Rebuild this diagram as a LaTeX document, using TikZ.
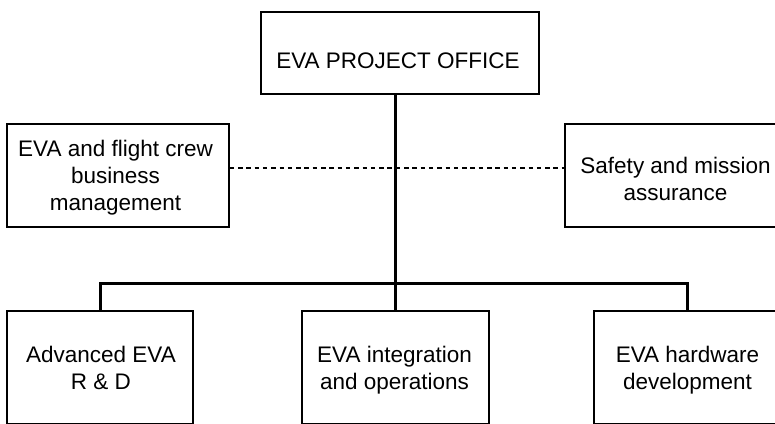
\documentclass[tikz,border=0pt]{standalone}
\usepackage{fontspec}
\setmainfont{Liberation Sans}
\begin{document}
\begin{tikzpicture}[x=1pt,y=-1pt,
  box/.style={draw,line width=1.4pt,rectangle,inner sep=0pt,fill=white},
  lbl/.style={align=center,anchor=base,inner sep=0pt,font=\fontsize{22.5}{26.7}\selectfont},
  conn/.style={line width=3pt},
  dashlink/.style={line width=2.3pt,dash pattern=on 4.5pt off 3.8pt}]
\clip (0,0) rectangle (775,423);
\fill[white] (0,0) rectangle (775,423);
% boxes
\node[box,minimum width=278pt,minimum height=82pt] (office) at (400,53) {};
\node[box,minimum width=222pt,minimum height=103pt] (crew) at (118,175.5) {};
\node[box,minimum width=222pt,minimum height=103pt] (safety) at (676,175.5) {};
\node[box,minimum width=186pt,minimum height=113pt] (rd) at (100,367.5) {};
\node[box,minimum width=187pt,minimum height=113pt] (integ) at (395.5,367.5) {};
\node[box,minimum width=187pt,minimum height=113pt] (hw) at (687.5,367.5) {};
% labels (anchor = baseline of the last line)
\node[lbl] (officeT) at (398,68) {EVA PROJECT OFFICE};
\node[lbl] (crewT) at (115.5,210) {EVA and flight crew\\business\\management};
\node[lbl] (safetyT) at (675.5,200) {Safety and mission\\assurance};
\node[lbl] (rdT) at (101,389) {Advanced EVA\\R \& D};
\node[lbl] (integT) at (394.5,389.3) {EVA integration\\and operations};
\node[lbl] (hwT) at (687.5,389) {EVA hardware\\development};
% connectors
\coordinate (bus) at (395.5,283);
\draw[dashlink] ([yshift=7.5pt]crew.east) -- ([yshift=7.5pt]safety.west);
\draw[conn] (office.south -| bus) -- (bus) -- (integ.north);
\draw[conn] (rd.north) -- (rd.north |- bus) -- (hw.north |- bus) -- (hw.north);
\end{tikzpicture}
\end{document}
